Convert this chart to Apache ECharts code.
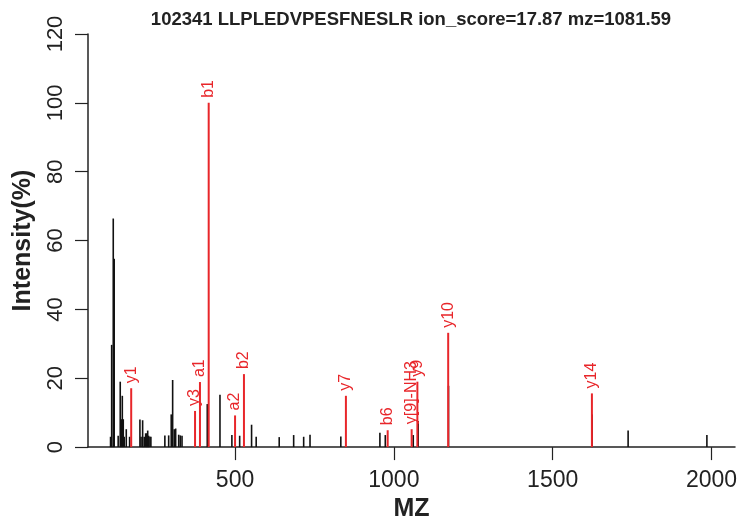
<!DOCTYPE html>
<html>
<head>
<meta charset="utf-8">
<script src="https://cdn.jsdelivr.net/npm/echarts@6/dist/echarts.min.js"></script>
<style>
  html, body { margin: 0; padding: 0; background: #fff; }
  #chart { width: 741px; height: 527px; }
</style>
</head>
<body>
<div id="chart"></div>
<script>
'use strict';

// unmatched peaks (black)
var peakMz = [108, 111.5, 116.5, 119.5, 132, 138.5, 142, 145, 148, 151, 157.5, 168,
  200.5, 204, 209, 214, 218.5, 221.5, 225, 228, 232, 235, 279, 291, 299, 303.5,
  308.5, 313, 322.5, 327.5, 333, 412.5, 452.5, 490, 514.5, 552, 566.5, 639, 684.5,
  716, 736, 833, 956, 973, 1061, 1076.5, 1172, 1624.5, 1737.5, 1985.5];
var peakIntensity = [3.0, 29.7, 66.4, 54.7, 3.3, 19.0, 8.1, 14.9, 8.1, 3.0, 5.2, 3.0,
  8.0, 3.0, 7.8, 3.0, 4.0, 4.0, 4.8, 3.3, 3.0, 3.0, 3.4, 3.4, 9.5, 19.5,
  5.2, 5.4, 3.6, 3.4, 3.3, 12.5, 15.2, 3.5, 3.3, 6.5, 3.0, 2.9, 3.5,
  3.0, 3.6, 3.1, 4.2, 3.5, 3.5, 7.6, 17.8, 9.5, 4.8, 3.5];

// matched fragment ions (red)
var ionMz = [173, 374, 389.5, 417, 500, 528, 849, 980.5, 1056, 1074, 1171, 1623.5];
var ionIntensity = [17.1, 10.5, 18.9, 100, 9.2, 21.2, 14.9, 4.9, 5.2, 19.0, 33.2, 15.6];
var ionLabels = ['y1', 'y3', 'a1', 'b1', 'a2', 'b2', 'y7', 'b6', 'y[9]-NH3', 'y9', 'y10', 'y14'];

var yTicks = [0, 20, 40, 60, 80, 100, 120];
var xTicks = [500, 1000, 1500, 2000];

var FONT = '"Liberation Sans", Arial, Helvetica, sans-serif';
var RED = '#e8262a';

function stick(color, width, labels) {
  return function (params, api) {
    var x = api.value(0);
    var base = api.coord([x, 0]);
    var top = api.coord([x, api.value(1)]);
    var children = [{
      type: 'line',
      shape: {x1: base[0], y1: base[1], x2: top[0], y2: top[1]},
      style: {stroke: color, lineWidth: width}
    }];
    if (labels) {
      children.push({
        type: 'text',
        x: top[0],
        y: top[1] - 5,
        rotation: Math.PI / 2,
        style: {
          text: labels[params.dataIndex],
          fill: color,
          font: '16px ' + FONT,
          align: 'left',
          verticalAlign: 'middle'
        }
      });
    }
    return {type: 'group', children: children};
  };
}

var chart = echarts.init(document.getElementById('chart'));

var option = {
  animation: false,
  backgroundColor: '#fff',
  title: {
    text: '102341 LLPLEDVPESFNESLR ion_score=17.87 mz=1081.59',
    left: 406,
    top: 5,
    textAlign: 'center',
    textStyle: {fontFamily: FONT, fontWeight: 'bold', fontSize: 18.5, color: '#222'}
  },
  grid: {left: 88, right: 6, top: 34, bottom: 79, containLabel: false},
  xAxis: {
    type: 'value',
    min: 37,
    max: 2074,
    name: 'MZ',
    nameLocation: 'middle',
    nameGap: 48,
    nameTextStyle: {fontFamily: FONT, fontWeight: 'bold', fontSize: 25, color: '#222'},
    axisLine: {show: true, onZero: false, lineStyle: {color: '#222', width: 1.5}},
    axisTick: {show: true, length: 13, customValues: xTicks, lineStyle: {color: '#222', width: 1.2}},
    axisLabel: {
      customValues: xTicks,
      margin: 22,
      fontFamily: FONT,
      fontSize: 23,
      color: '#222',
      formatter: function (v) { return String(v); }
    },
    splitLine: {show: false}
  },
  yAxis: {
    type: 'value',
    min: 0,
    max: 120,
    interval: 20,
    name: 'Intensity(%)',
    nameLocation: 'middle',
    nameRotate: 90,
    nameGap: 52,
    nameTextStyle: {fontFamily: FONT, fontWeight: 'bold', fontSize: 25, color: '#222'},
    axisLine: {show: true, lineStyle: {color: '#222', width: 1.5}},
    axisTick: {show: true, length: 13, lineStyle: {color: '#222', width: 1.2}},
    axisLabel: {
      rotate: 90,
      margin: 21,
      fontFamily: FONT,
      fontSize: 22,
      color: '#222',
      customValues: yTicks
    },
    splitLine: {show: false}
  },
  series: [
    {
      type: 'custom',
      name: 'peaks',
      z: 2,
      renderItem: stick('#111', 1.6, null),
      data: peakMz.map(function (m, i) { return [m, peakIntensity[i]]; })
    },
    {
      type: 'custom',
      name: 'ions',
      z: 3,
      renderItem: stick(RED, 2, ionLabels),
      data: ionMz.map(function (m, i) { return [m, ionIntensity[i]]; })
    }
  ]
};

chart.setOption(option);
</script>
</body>
</html>
